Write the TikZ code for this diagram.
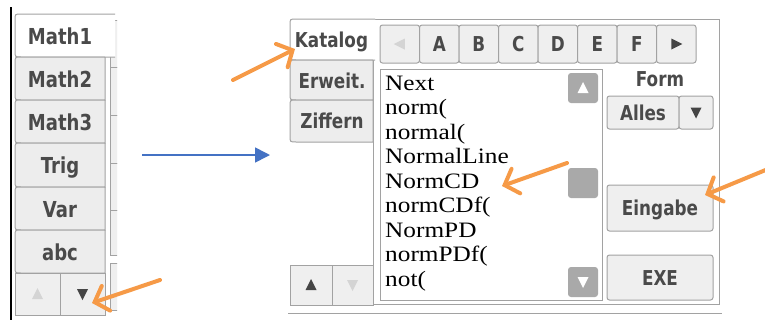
\documentclass[tikz,border=0pt]{standalone}
\usepackage{fontspec}
\newfontfamily\uifont{DejaVu Sans}[FakeStretch=0.82]
\newfontfamily\listfont{Liberation Serif}[FakeStretch=1.15]
\usetikzlibrary{arrows.meta}
\definecolor{bordergray}{HTML}{A2A2A2}
\definecolor{btnfill}{HTML}{EFEFEF}
\definecolor{tabfill}{HTML}{EDEDED}
\definecolor{uitext}{HTML}{4A4A4A}
\definecolor{dimtri}{HTML}{D4D4D4}
\definecolor{darktri}{HTML}{454545}
\definecolor{scrollgray}{HTML}{A9A9A9}
\definecolor{arrowblue}{HTML}{4472C4}
\definecolor{arroworange}{HTML}{F69A47}
% tab outline: x1 y1 x2 y2 fill ; open on the right
\newcommand\tabopen[5]{\filldraw[draw=bordergray,line width=1pt,fill=#5] (#3,#2) -- (#1+6,#2) .. controls (#1,#2) .. (#1,#2+6) -- (#1,#4-6) .. controls (#1,#4) .. (#1+6,#4) -- (#3,#4);}
\newcommand\tabclosed[5]{\filldraw[draw=bordergray,line width=1pt,fill=#5] (#3,#2) -- (#1+6,#2) .. controls (#1,#2) .. (#1,#2+6) -- (#1,#4-6) .. controls (#1,#4) .. (#1+6,#4) -- (#3,#4) -- (#3,#2);}
\newcommand\mytridown[3]{\fill[#3] (#1-5.5,#2-5) -- (#1+5.5,#2-5) -- (#1,#2+6) -- cycle;}
\newcommand\mytriup[3]{\fill[#3] (#1-5.5,#2+5) -- (#1+5.5,#2+5) -- (#1,#2-6) -- cycle;}
\newcommand\mytrileft[3]{\fill[#3] (#1+5,#2-5.5) -- (#1+5,#2+5.5) -- (#1-6,#2) -- cycle;}
\newcommand\mytriright[3]{\fill[#3] (#1-5,#2-5.5) -- (#1-5,#2+5.5) -- (#1+6,#2) -- cycle;}
\begin{document}
\begin{tikzpicture}[x=1pt,y=-1pt,
  uitxt/.style={font=\uifont\bfseries\fontsize{20.5}{22}\selectfont, text=uitext, inner sep=0pt, text height=15pt, text depth=0pt},
  uitxtl/.style={font=\uifont\bfseries\fontsize{22}{24}\selectfont, text=uitext, inner sep=0pt, text height=17pt, text depth=0pt},
  btn/.style={uitxt, draw=bordergray, fill=btnfill, rounded corners=2.5pt, line width=1pt},
  plainbtn/.style={draw=bordergray, fill=btnfill, line width=1pt, inner sep=0pt},
  scrollbtn/.style={fill=scrollgray, rounded corners=3pt, inner sep=0pt, minimum width=30pt, minimum height=30pt},
  listitem/.style={font=\listfont\fontsize{22}{24}\selectfont, inner sep=0pt, anchor=base west},
  framel/.style={draw=bordergray, line width=1pt},
  orangearrow/.style={draw=arroworange, line width=4pt, line cap=round, -{Straight Barb[length=12pt,width=26pt,line cap=round]}},
  bluearrow/.style={draw=arrowblue, line width=1.6pt, -{Triangle[length=15pt,width=15pt]}}
]
\useasboundingbox (0,0) rectangle (765,322);
\fill[white] (0,0) rectangle (765,322);

% ---------------- left panel ----------------
\draw[line width=2pt] (11,7) -- (11,320);
% clipped keys on the right of the tabs
\begin{scope}
  \clip (108,0) rectangle (117,322);
  \foreach \ya/\yb in {20/67,67/115,115/163,163/210,210/255,263/310}
    \draw[framel, fill=btnfill] (110,\ya) rectangle (140,\yb);
\end{scope}
\tabopen{15}{14}{115}{57}{white}
\tabclosed{15}{57}{105}{100}{tabfill}
\tabclosed{15}{100}{105}{143}{tabfill}
\tabclosed{15}{143}{105}{187}{tabfill}
\tabclosed{15}{187}{105}{230}{tabfill}
\tabclosed{15}{230}{105}{273}{tabfill}
\node[uitxtl] (math1) at (60,36) {Math1};
\node[uitxtl] (math2) at (60,78.5) {Math2};
\node[uitxtl] (math3) at (60,121.5) {Math3};
\node[uitxtl] (trig) at (60,165) {Trig};
\node[uitxtl] (var) at (60,208.5) {Var};
\node[uitxtl] (abc) at (60,251.5) {abc};
\node[plainbtn, minimum width=45pt, minimum height=42pt] (lup) at (37.5,294) {};
\node[plainbtn, minimum width=45pt, minimum height=42pt] (ldown) at (82.5,294) {};
\mytriup{37.5}{294}{dimtri}
\mytridown{82.5}{294}{darktri}

% ---------------- right panel ----------------
\draw[framel] (375,19) -- (719,19) -- (719,304) -- (290,304);
\draw[framel] (288,313) -- (722,313);
\draw[framel] (373,60) -- (373,265);
\tabopen{290}{19}{375}{60}{white}
\tabclosed{290}{60}{373}{100}{tabfill}
\tabclosed{290}{100}{373}{142}{tabfill}
\node[uitxt] (katalog) at (331.5,40) {Katalog};
\node[uitxt] (erweit) at (332,81) {Erweit.};
\node[uitxt] (ziffern) at (332,121) {Ziffern};
\node[plainbtn, minimum width=42pt, minimum height=40pt] (rup) at (311,285) {};
\node[plainbtn, minimum width=41pt, minimum height=40pt] (rdown) at (352.5,285) {};
\mytriup{311}{285}{darktri}
\mytridown{352.5}{285}{dimtri}

% letter bar
\node[btn, minimum width=39.5pt, minimum height=38pt] (kprev) at (399.75,44) {};
\node[btn, minimum width=39.5pt, minimum height=38pt] (ka) at (439.25,44) {A};
\node[btn, minimum width=39.5pt, minimum height=38pt] (kb) at (478.75,44) {B};
\node[btn, minimum width=39.5pt, minimum height=38pt] (kc) at (518.25,44) {C};
\node[btn, minimum width=39.5pt, minimum height=38pt] (kd) at (557.75,44) {D};
\node[btn, minimum width=39.5pt, minimum height=38pt] (ke) at (597.25,44) {E};
\node[btn, minimum width=39.5pt, minimum height=38pt] (kf) at (636.75,44) {F};
\node[btn, minimum width=39.5pt, minimum height=38pt] (knext) at (676.25,44) {};
\mytrileft{399.75}{44}{dimtri}
\mytriright{676.25}{44}{darktri}

% list box
\node[framel, fill=white, minimum width=222pt, minimum height=231pt, inner sep=0pt] (list) at (491,184.5) {};
\node[listitem] (l1) at (385,90) {Next};
\node[listitem] (l2) at (385,114.5) {norm(};
\node[listitem] (l3) at (385,139) {normal(};
\node[listitem] (l4) at (385,163.5) {NormalLine};
\node[listitem] (l5) at (385,188) {NormCD};
\node[listitem] (l6) at (385,212.5) {normCDf(};
\node[listitem] (l7) at (385,237) {NormPD};
\node[listitem] (l8) at (385,261.5) {normPDf(};
\node[listitem] (l9) at (385,286) {not(};
\node[scrollbtn] (sup) at (583,88) {};
\node[scrollbtn] (sthumb) at (583,183) {};
\node[scrollbtn] (sdown) at (583,282) {};
\mytriup{583}{88}{white}
\mytridown{583}{282}{white}

% right column
\node[uitxt] (form) at (660,78.5) {Form};
\node[btn, minimum width=72pt, minimum height=33pt] (alles) at (643,112.5) {Alles};
\node[btn, minimum width=34pt, minimum height=33pt] (allesdd) at (696,112.5) {};
\mytridown{696}{112.5}{darktri}
\node[btn, minimum width=106pt, minimum height=46pt] (eingabe) at (660,208) {Eingabe};
\node[btn, minimum width=106pt, minimum height=45pt] (exe) at (660,277.5) {EXE};

% ---------------- arrows ----------------
\coordinate (bstart) at (142,155);
\coordinate (bend) at (270,155);
\draw[bluearrow] (bstart) -- (bend);

\coordinate (o1s) at (233,80);
\coordinate (o1e) at (295,49);
\draw[orangearrow] (o1s) -- (o1e);
\coordinate (o2s) at (567,163);
\coordinate (o2e) at (502,186);
\draw[orangearrow] (o2s) -- (o2e);
\coordinate (o3s) at (768,169);
\coordinate (o3e) at (705,195);
\draw[orangearrow] (o3s) -- (o3e);
\coordinate (o4s) at (160,280);
\coordinate (o4e) at (92,303);
\draw[orangearrow] (o4s) -- (o4e);
\end{tikzpicture}
\end{document}
